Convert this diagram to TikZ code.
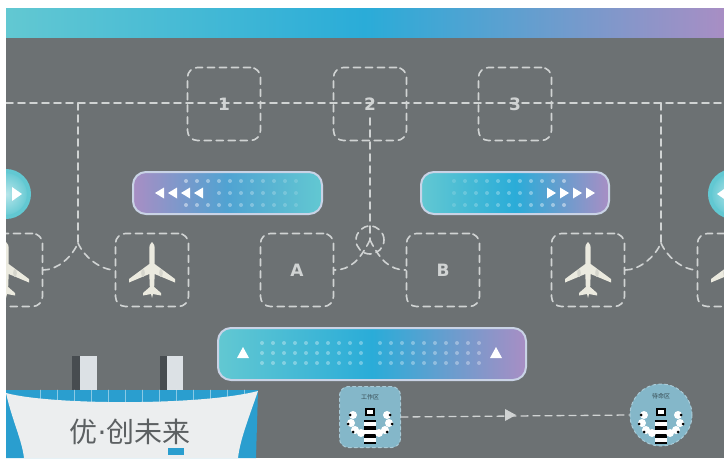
\documentclass[tikz,border=0pt]{standalone}
\usepackage{fontspec}
\setmainfont{DejaVu Sans}
\newfontfamily\cjk{Noto Sans CJK SC}
\definecolor{apron}{HTML}{6C7173}
\definecolor{paint}{HTML}{D0D3D3}
\definecolor{barteal}{HTML}{62C8D2}
\definecolor{barblue}{HTML}{2AACD8}
\definecolor{barviolet}{HTML}{A88EC4}
\definecolor{pillrim}{HTML}{C9D3E6}
\definecolor{termblue}{HTML}{2A9ECF}
\definecolor{termwhite}{HTML}{ECEEEF}
\definecolor{pillar}{HTML}{DCE1E5}
\definecolor{pillarshade}{HTML}{474C50}
\definecolor{dockfill}{HTML}{84B7C9}
\definecolor{dockrim}{HTML}{A9CBD8}
\definecolor{planewhite}{HTML}{EBEADF}
\tikzset{
  taxi/.style={draw=paint, line width=1.6pt, dash pattern=on 7pt off 5pt},
  stand/.style={taxi, rounded corners=10pt, minimum size=73pt, inner sep=0pt,
    text=paint, font=\bfseries\fontsize{17}{17}\selectfont},
  pill/.style={draw=pillrim, line width=2pt, rounded corners=13pt, inner sep=0pt},
  gate/.style={circle, draw=barteal, line width=4pt, inner color=barteal!45!white,
    outer color=barteal, minimum size=46pt},
  dock/.style={draw=dockrim, fill=dockfill, line width=1pt, dashed, inner sep=0pt},
  plane/.pic={
    \fill[planewhite] (0,-28) .. controls (2.2,-27) and (2.7,-24) .. (2.7,-20) -- (2.7,-6)
      -- (23,9) -- (23,12.5) -- (2.7,4) -- (2.2,17) -- (9,23) -- (9,25.5) -- (1,24) -- (0,28)
      -- (-1,24) -- (-9,25.5) -- (-9,23) -- (-2.2,17) -- (-2.7,4) -- (-23,12.5) -- (-23,9)
      -- (-2.7,-6) -- (-2.7,-20) .. controls (-2.7,-24) and (-2.2,-27) .. (0,-28) -- cycle;
    \fill[planewhite!80!gray] (9,3) ellipse (1.8pt and 4pt) (-9,3) ellipse (1.8pt and 4pt);
  },
  bot/.pic={
    \fill[black] (-6,0) rectangle (6,24);
    \foreach \s in {2,10,18} \fill[white] (-6,\s) rectangle (6,\s+4);
    \fill[black] (-5,-12) rectangle (5,-4);
    \fill[white] (-3,-10) rectangle (3,-6);
    \foreach \sx in {-1,1} {
      \fill[white] (\sx*17,-5) circle (4pt) (\sx*19,3) circle (4pt)
        (\sx*15,10) circle (4pt) (\sx*9,13) circle (4pt);
      \fill[black] (\sx*20,-5) circle (1.5pt) (\sx*22,4) circle (1.5pt)
        (\sx*17,12) circle (1.5pt);
    }
  },
}
\begin{document}
\begin{tikzpicture}[x=1pt,y=-1pt,line join=round,line cap=round]
\useasboundingbox (0,0) rectangle (724,460);
\fill[white] (0,0) rectangle (724,460);
\shade[left color=barteal, right color=barviolet, middle color=barblue] (6,9) rectangle (724,38);
\fill[apron] (6,38) rectangle (724,458);
\begin{scope}
\clip (6,38) rectangle (724,458);
% taxiway and holding points
\coordinate (tw) at (6,103);
\coordinate (te) at (724,103);
\draw[taxi] (tw) -- (te);
\node[stand] (s1) at (224,104) {1};
\node[stand] (s2) at (370,104) {2};
\node[stand] (s3) at (515,104) {3};
% stands on the apron
\node[stand] (p0) at (6,270) {};
\node[stand] (p1) at (152,270) {};
\node[stand] (pa) at (297,270) {A};
\node[stand] (pb) at (443,270) {B};
\node[stand] (p2) at (588,270) {};
\node[stand] (p3) at (734,270) {};
\foreach \p in {p0,p1,p2,p3} \pic at (\p) {plane};
\coordinate (t1) at (78,103);
\coordinate (j1) at (78,243);
\coordinate (t2) at (661,103);
\coordinate (j2) at (661,243);
\draw[taxi] (t1) -- (j1) .. controls +(-6,14) and +(14,0) .. (p0.east);
\draw[taxi] (j1) .. controls +(6,14) and +(-14,0) .. (p1.west);
\draw[taxi] (t2) -- (j2) .. controls +(-6,14) and +(14,0) .. (p2.east);
\draw[taxi] (j2) .. controls +(6,14) and +(-14,0) .. (p3.west);
\node[taxi, circle, minimum size=28pt, inner sep=0pt] (hub) at (370,240) {};
\draw[taxi] ([yshift=-14pt]s2.center) -- (hub.center);
\draw[taxi] (hub.center) .. controls +(-10,20) and +(16,0) .. (pa.east);
\draw[taxi] (hub.center) .. controls +(10,20) and +(-16,0) .. (pb.west);
% lanes
\node[pill, left color=barviolet, right color=barteal, middle color=barblue!70!barviolet,
  minimum width=189pt, minimum height=42pt] (lane1) at (227.5,193) {};
\node[pill, left color=barteal, right color=barviolet, middle color=barblue,
  minimum width=188pt, minimum height=42pt] (lane2) at (515,193) {};
\node[pill, left color=barteal, right color=barviolet, middle color=barblue,
  minimum width=308pt, minimum height=52pt] (lane3) at (372,354) {};
\foreach \i in {0,...,10} {
  \fill[white, opacity={0.45-0.03*\i}] ({186+11*\i},181) circle (2pt) ({186+11*\i},205) circle (2pt);
  \fill[white, opacity={0.45-0.03*\i}] ({564-11*\i},181) circle (2pt) ({564-11*\i},205) circle (2pt);
}
\foreach \i in {3,...,10} {
  \fill[white, opacity={0.45-0.03*\i}] ({186+11*\i},193) circle (2pt);
  \fill[white, opacity={0.45-0.03*\i}] ({564-11*\i},193) circle (2pt);
}
\foreach \x in {155,168,181,194} \fill[white] (\x,193) -- ++(9,-5.5) -- ++(0,11) -- cycle;
\foreach \x in {595,582,569,556} \fill[white] (\x,193) -- ++(-9,-5.5) -- ++(0,11) -- cycle;
\foreach \i in {0,...,9} \foreach \y in {343,353,363} {
  \fill[white, opacity=0.32] ({262+11*\i},\y) circle (2pt);
  \fill[white, opacity=0.32] ({380+11*\i},\y) circle (2pt);
}
\foreach \x in {243,496} \fill[white] (\x,347) -- ++(6,11) -- ++(-12,0) -- cycle;
% gates at both ends
\node[gate] (gw) at (6,194) {};
\node[gate] (ge) at (733,194) {};
\fill[white] (12,187) -- ++(10,7) -- ++(-10,7) -- cycle;
\fill[white] (727,187) -- ++(-10,7) -- ++(10,7) -- cycle;
% terminal
\fill[pillarshade] (72,356) rectangle (80,394);
\fill[pillar] (80,356) rectangle (97,394);
\fill[pillarshade] (160,356) rectangle (167,394);
\fill[pillar] (167,356) rectangle (183,394);
\fill[termblue] (6,390) -- (258,390) -- (256,458) -- (6,458) -- cycle;
\foreach \x in {40,57,...,245} \draw[white, opacity=0.45, line width=0.8pt] (\x,390) -- (\x,405);
\fill[termwhite] (6,393) .. controls (50,405) and (200,406) .. (258,391)
  .. controls (248,420) and (240,440) .. (238,458) -- (24,458)
  .. controls (22,440) and (12,420) .. (6,393) -- cycle;
\node[font=\cjk\fontsize{28}{28}\selectfont, text=apron!85!black] (brand) at (130,432)
  {优{\rmfamily\mdseries·}创未来};
\node[fill=termblue, minimum width=16pt, minimum height=7pt, inner sep=0pt] (tag) at (176,451) {};
% robots
\node[dock, rounded corners=9pt, minimum size=61pt] (r1) at (370,417) {};
\node[dock, circle, minimum size=62pt] (r2) at (661,415) {};
\draw[taxi, line width=1.3pt] (r1.east) -- (r2.west);
\fill[paint] (505,409) -- (516,415) -- (505,421) -- cycle;
\node[font=\cjk\fontsize{6}{6}\selectfont, text=dockfill!40!black] (r1l) at (370,397) {工作区};
\node[font=\cjk\fontsize{6}{6}\selectfont, text=dockfill!40!black] (r2l) at (661,396) {待命区};
\pic at (370,420) {bot};
\pic at (661,420) {bot};
\end{scope}
\end{tikzpicture}
\end{document}
